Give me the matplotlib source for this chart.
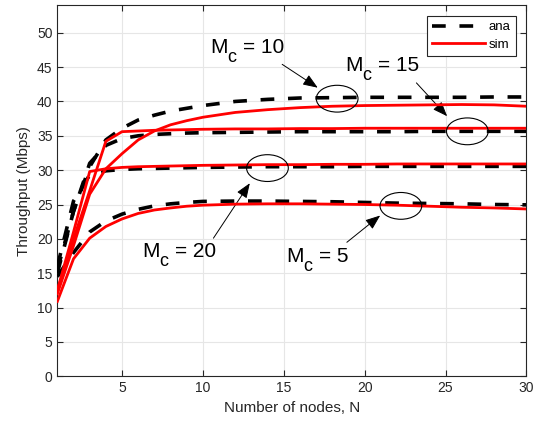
import numpy as np
import matplotlib
matplotlib.use('Agg')
import matplotlib.pyplot as plt
from matplotlib.patches import Ellipse
from matplotlib.transforms import offset_copy

plt.rcParams['font.family'] = ['Liberation Sans', 'DejaVu Sans']

# ── data ──
N = [1, 2, 3, 4, 5, 6, 7, 8, 9, 10, 12, 14, 16, 18, 20, 22, 24, 26, 28, 30]

ana_mc5 = [14.5, 18.0, 21.0, 22.6, 23.6, 24.3, 24.8, 25.1, 25.3, 25.45, 25.5, 25.5, 25.45,
           25.4, 25.3, 25.2, 25.15, 25.1, 25.0, 24.95]
sim_mc5 = [10.9, 17.1, 20.1, 21.8, 22.9, 23.7, 24.2, 24.5, 24.75, 24.9, 25.05, 25.1, 25.1,
           25.05, 25.0, 24.9, 24.75, 24.6, 24.5, 24.35]

ana_mc10 = [15.5, 24.0, 30.5, 34.4, 36.1, 37.3, 38.0, 38.6, 39.0, 39.4, 40.0, 40.3, 40.5,
            40.55, 40.6, 40.6, 40.6, 40.6, 40.65, 40.65]
sim_mc10 = [12.0, 19.0, 26.5, 30.2, 32.4, 34.4, 35.7, 36.6, 37.2, 37.7, 38.4, 38.8, 39.1,
            39.3, 39.4, 39.45, 39.5, 39.55, 39.5, 39.3]

ana_mc15 = [15.0, 24.0, 31.0, 33.6, 34.6, 35.0, 35.2, 35.3, 35.4, 35.45, 35.5, 35.55, 35.6,
            35.6, 35.6, 35.6, 35.65, 35.65, 35.65, 35.65]
sim_mc15 = [12.5, 20.0, 27.0, 34.2, 35.6, 35.7, 35.8, 35.85, 35.9, 35.95, 36.0, 36.0, 36.05,
            36.05, 36.1, 36.1, 36.1, 36.1, 36.1, 36.1]

ana_mc20 = [16.0, 25.5, 29.3, 29.9, 30.1, 30.2, 30.25, 30.3, 30.35, 30.4, 30.45, 30.5, 30.5,
            30.5, 30.55, 30.55, 30.55, 30.55, 30.55, 30.55]
sim_mc20 = [12.5, 21.0, 29.8, 30.2, 30.4, 30.5, 30.55, 30.6, 30.65, 30.7, 30.75, 30.8, 30.8,
            30.85, 30.85, 30.9, 30.9, 30.9, 30.9, 30.9]

ana_all = [ana_mc5, ana_mc10, ana_mc15, ana_mc20]
sim_all = [sim_mc5, sim_mc10, sim_mc15, sim_mc20]

# annotations: M_c value, text baseline pos, arrow tail, arrow head, ellipse centre
mc_vals = ['10', '15', '20', '5']
text_xy = [(10.45, 47.1), (18.8, 44.4), (6.22, 17.4), (15.14, 16.7)]
tail_xy = [(14.9, 45.4), (23.2, 42.7), (10.65, 20.1), (18.9, 19.5)]
head_xy = [(17.1, 42.0), (25.1, 37.85), (12.9, 28.1), (20.96, 23.4)]
ell_xy = [(18.3, 40.4), (26.35, 35.65), (13.99, 30.3), (22.24, 24.8)]

fig = plt.figure(figsize=(5.41, 4.26), dpi=100)
ax = fig.add_axes([0.106, 0.1167, 0.867, 0.871])

for i, a in enumerate(ana_all):
    la, = ax.plot(N, a, color='black', lw=2.6, label='ana' if i == 0 else None, zorder=3)
    la.set_dashes((3.8, 3.8))
for i, s in enumerate(sim_all):
    ax.plot(N, s, color='red', lw=2.0, label='sim' if i == 0 else None, zorder=4)

for v, t, tl, hd, ec in zip(mc_vals, text_xy, tail_xy, head_xy, ell_xy):
    ax.text(t[0], t[1], 'M', fontsize=15, va='baseline', ha='left')
    tr_c = offset_copy(ax.transData, fig=fig, x=17, y=-9, units='dots')
    ax.text(t[0], t[1], 'c', fontsize=13, va='baseline', ha='left', transform=tr_c)
    tr_eq = offset_copy(ax.transData, fig=fig, x=33, y=0, units='dots')
    ax.text(t[0], t[1], '= ' + v, fontsize=15, va='baseline', ha='left', transform=tr_eq)
    ax.annotate('', xy=hd, xytext=tl,
                arrowprops=dict(arrowstyle='-|>,head_length=0.9,head_width=0.35',
                                color='black', lw=0.7, shrinkA=0, shrinkB=0))
    ax.add_patch(Ellipse(ec, 2.58, 3.9, fill=False, edgecolor='black', lw=0.8, zorder=5))

ax.set_xlim(1, 30)
ax.set_ylim(0, 54)
ax.set_xticks([5, 10, 15, 20, 25, 30])
ax.set_yticks(np.arange(0, 51, 5))
ax.grid(True, color='#e6e6e6', lw=0.8)
ax.set_axisbelow(True)
ax.tick_params(direction='in', top=True, right=True, labelsize=10, colors='#262626',
               length=4)
for sp in ax.spines.values():
    sp.set_color('#262626')
ax.set_xlabel('Number of nodes, N', fontsize=11, color='#262626')
ax.set_ylabel('Throughput (Mbps)', fontsize=11, color='#262626')

leg = ax.legend(loc='upper right', fontsize=9.5, fancybox=False, framealpha=1,
                edgecolor='#262626', handlelength=4, borderaxespad=0.8,
                borderpad=0.4, labelspacing=0.4, handletextpad=0.3)
leg.get_frame().set_linewidth(0.8)

plt.savefig('out.png', dpi=100)
